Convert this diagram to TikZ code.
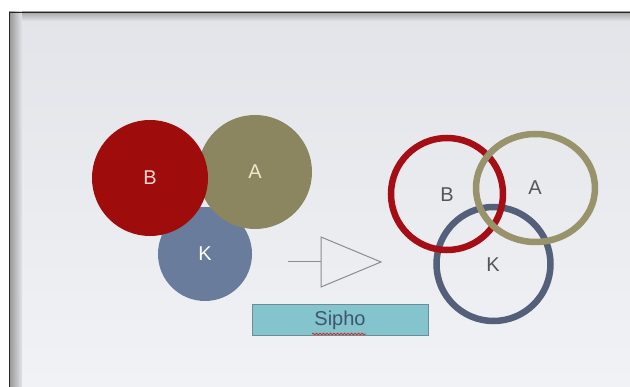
\documentclass[tikz,border=0pt]{standalone}
\usepackage{fontspec}
\setmainfont{Liberation Sans}
\usetikzlibrary{decorations.pathmorphing}
\definecolor{bgtop}{RGB}{226,228,233}
\definecolor{bgbot}{RGB}{240,242,245}
\definecolor{fillB}{RGB}{158,12,12}
\definecolor{fillA}{RGB}{139,134,96}
\definecolor{fillK}{RGB}{105,124,155}
\definecolor{ringB}{RGB}{165,14,20}
\definecolor{ringA}{RGB}{152,147,106}
\definecolor{ringK}{RGB}{84,95,122}
\definecolor{labB}{RGB}{245,215,212}
\definecolor{labA}{RGB}{238,232,205}
\definecolor{labR}{RGB}{85,85,90}
\definecolor{trig}{RGB}{140,140,140}
\definecolor{boxfill}{RGB}{132,196,205}
\definecolor{boxline}{RGB}{110,140,150}
\definecolor{boxtext}{RGB}{62,86,110}
\definecolor{squig}{RGB}{215,40,40}
\tikzset{
  disc/.style={circle, inner sep=0pt, font=\fontsize{20}{20}\selectfont},
  ring/.style={line width=6.5pt, fill=none},
  rlab/.style={text=labR, font=\fontsize{20}{20}\selectfont, inner sep=0pt},
}
\begin{document}
\begin{tikzpicture}[x=1pt,y=-1pt]
\useasboundingbox (0,0) rectangle (630,387);
\fill[white] (0,0) rectangle (630,387);
% slide background
\shade[top color=bgtop, bottom color=bgbot] (9,12) rectangle (630,387);
\shade[left color=black!42, right color=bgtop] (9,12) rectangle (22,387);
\shade[top color=black!35, bottom color=bgtop] (22,12) rectangle (630,21);
\draw[black!85, line width=1.2pt] (9.6,387) -- (9.6,12.6) -- (630,12.6);
% filled discs
\node[disc, fill=fillK, minimum size=94pt, text=white] (K1) at (205,254) {K};
\node[disc, fill=fillA, minimum size=114pt, text=labA] (A1) at (255,172) {A};
\node[disc, fill=fillB, minimum size=116pt, text=labB] (B1) at (150,178) {B};
% arrow-like triangle
\coordinate (lineStart) at (288,262);
\coordinate (t1) at (321,237);
\coordinate (t2) at (381,262);
\coordinate (t3) at (321,287);
\coordinate (tbase) at (321,262);
\draw[trig, line width=1pt] (lineStart) -- (tbase);
\draw[trig, line width=1pt, line join=miter] (t1) -- (t2) -- (t3) -- cycle;
% Sipho box
\node[draw=boxline, fill=boxfill, line width=0.8pt, minimum width=176pt, minimum height=31pt, inner sep=0pt,
      text=boxtext, font=\fontsize{20}{20}\selectfont] (S) at (340,320) {Sipho};
\coordinate (sq1) at (312,334);
\coordinate (sq2) at (366,334);
\draw[squig, line width=0.8pt, decorate, decoration={snake, amplitude=0.8pt, segment length=3.5pt}] (sq1) -- (sq2);
% rings
\draw[ringK, ring] (493.5,264) circle (57);
\draw[ringB, ring] (447,194) circle (56);
\draw[ringA, ring] (535.5,188) ellipse [x radius=59.5, y radius=54];
\node[rlab] (B2) at (447,195) {B};
\node[rlab] (A2) at (535,188) {A};
\node[rlab] (K2) at (493,265) {K};
\end{tikzpicture}
\end{document}
